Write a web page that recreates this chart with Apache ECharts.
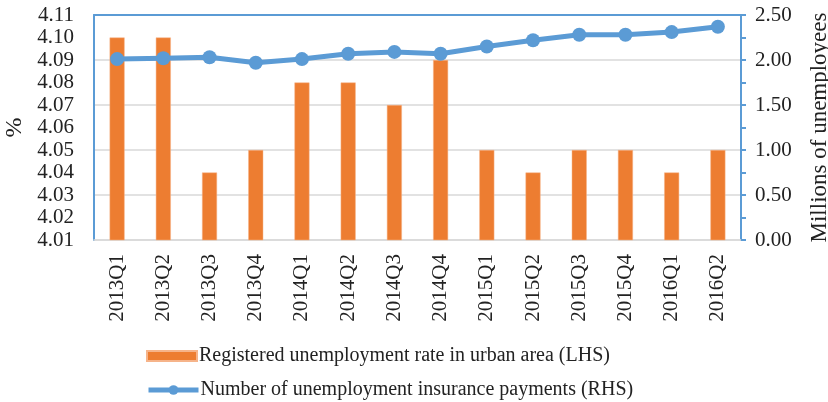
<!DOCTYPE html>
<html>
<head>
<meta charset="utf-8">
<script src="https://cdn.jsdelivr.net/npm/echarts@6/dist/echarts.min.js"></script>
<style>
  html, body { margin: 0; padding: 0; background: #fff; }
  #chart { width: 828px; height: 402px; }
</style>
</head>
<body>
<div id="chart"></div>
<script>
// Quarterly categories
const quarters = ['2013Q1', '2013Q2', '2013Q3', '2013Q4', '2014Q1', '2014Q2', '2014Q3',
                  '2014Q4', '2015Q1', '2015Q2', '2015Q3', '2015Q4', '2016Q1', '2016Q2'];
// Registered unemployment rate in urban area, % (left axis)
const unemploymentRate = [4.10, 4.10, 4.04, 4.05, 4.08, 4.08, 4.07, 4.09, 4.05, 4.04, 4.05, 4.05, 4.04, 4.05];
// Number of unemployment insurance payments, millions (right axis)
const insurancePayments = [2.01, 2.02, 2.03, 1.97, 2.01, 2.07, 2.09, 2.07, 2.15, 2.22, 2.28, 2.28, 2.31, 2.37];

const seriesNames = ['Registered unemployment rate in urban area (LHS)',
                     'Number of unemployment insurance payments (RHS)'];

const FONT = '"Liberation Serif", "Times New Roman", serif';
const BLUE = '#5b9bd5';
const ORANGE = '#ed7d31';

// One legend block per series, stacked under the chart
const legendBase = {
  left: 141,
  itemWidth: 50,
  itemHeight: 10,
  textStyle: { fontFamily: FONT, fontSize: 20, color: '#222', padding: [0, 0, 0, -3] }
};

const chart = echarts.init(document.getElementById('chart'), null, { renderer: 'canvas' });
chart.setOption({
  animation: false,
  grid: {
    left: 94, right: 87, top: 15, bottom: 162,
    containLabel: false,
    outerBoundsMode: 'none'
  },
  legend: [
    Object.assign({}, legendBase, { top: 341, data: [{ name: seriesNames[0], icon: 'rect' }] }),
    Object.assign({}, legendBase, {
      top: 375,
      itemHeight: 12,
      lineStyle: { width: 5, color: BLUE },
      data: [{ name: seriesNames[1] }]
    })
  ],
  xAxis: [
    {
      type: 'category',
      data: quarters,
      boundaryGap: true,
      axisLine: { lineStyle: { color: '#d9d9d9', width: 1.5 } },
      axisTick: { show: false },
      axisLabel: { rotate: 90, fontFamily: FONT, fontSize: 21, color: '#222', margin: 14 }
    },
    {
      type: 'category',
      data: quarters,
      position: 'top',
      axisLine: { lineStyle: { color: BLUE, width: 2 } },
      axisTick: { show: false },
      axisLabel: { show: false }
    }
  ],
  yAxis: [
    {
      type: 'value',
      min: 4.01,
      max: 4.11,
      interval: 0.01,
      name: '%',
      nameLocation: 'middle',
      nameGap: 62,
      nameRotate: 90,
      nameTextStyle: { fontFamily: FONT, fontSize: 24, color: '#222' },
      axisLine: { show: true, lineStyle: { color: BLUE, width: 2 } },
      axisTick: { show: false },
      splitLine: { show: false },
      axisLabel: {
        fontFamily: FONT, fontSize: 21, color: '#222', margin: 20,
        formatter: v => v.toFixed(2)
      }
    },
    {
      type: 'value',
      min: 0,
      max: 2.5,
      interval: 0.5,
      position: 'right',
      name: 'Millions of unemployees',
      nameLocation: 'middle',
      nameGap: 67,
      nameRotate: 90,
      nameTextStyle: { fontFamily: FONT, fontSize: 23, color: '#222' },
      axisLine: { show: true, lineStyle: { color: BLUE, width: 2 } },
      axisTick: { show: true, inside: false, length: 5, lineStyle: { color: BLUE, width: 2 } },
      minorTick: { show: true, splitNumber: 2, length: 5, lineStyle: { color: BLUE, width: 2 } },
      splitLine: { show: true, lineStyle: { color: '#d9d9d9', width: 1.5 } },
      axisLabel: {
        fontFamily: FONT, fontSize: 21, color: '#222', margin: 14,
        formatter: v => v.toFixed(2)
      }
    }
  ],
  series: [
    {
      name: seriesNames[0],
      type: 'bar',
      xAxisIndex: 0,
      yAxisIndex: 0,
      data: unemploymentRate,
      barWidth: 15,
      clip: true,
      itemStyle: { color: ORANGE, borderColor: '#f6b48a', borderWidth: 0.5 },
      z: 2
    },
    {
      name: seriesNames[1],
      type: 'line',
      xAxisIndex: 0,
      yAxisIndex: 1,
      data: insurancePayments,
      symbol: 'circle',
      symbolSize: 14,
      lineStyle: { color: BLUE, width: 5 },
      itemStyle: { color: BLUE },
      z: 3
    }
  ]
});
</script>
</body>
</html>
